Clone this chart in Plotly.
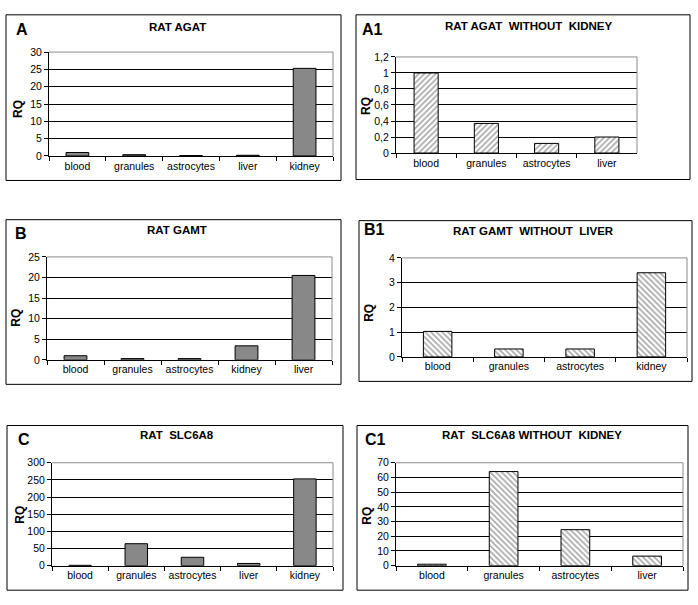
import plotly.graph_objects as go

W, H = 698, 605

# ---- data ----
cat_a = ["blood", "granules", "astrocytes", "liver", "kidney"]
val_a = [1.0, 0.37, 0.12, 0.2, 25.3]
cat_a1 = ["blood", "granules", "astrocytes", "liver"]
val_a1 = [1.0, 0.37, 0.12, 0.2]
cat_b = ["blood", "granules", "astrocytes", "kidney", "liver"]
val_b = [1.0, 0.3, 0.3, 3.4, 20.5]
cat_b1 = ["blood", "granules", "astrocytes", "kidney"]
val_b1 = [1.03, 0.32, 0.32, 3.4]
cat_c = ["blood", "granules", "astrocytes", "liver", "kidney"]
val_c = [1.0, 64.0, 24.5, 6.5, 253.0]
cat_c1 = ["blood", "granules", "astrocytes", "liver"]
val_c1 = [1.0, 64.0, 24.5, 6.5]

titles = ["RAT AGAT", "RAT AGAT  WITHOUT  KIDNEY", "RAT GAMT", "RAT GAMT  WITHOUT  LIVER",
          "RAT  SLC6A8", "RAT  SLC6A8 WITHOUT  KIDNEY"]
letters = ["A", "A1", "B", "B1", "C", "C1"]
y_max = [30, 1.2, 25, 4, 300, 70]
y_dtick = [5, 0.2, 5, 1, 50, 10]

FONT = "Liberation Sans, Arial, sans-serif"

# layout geometry (pixels)
boxes = [(6, 9, 341, 178), (356, 9, 690, 177), (6, 218, 341, 386),
         (359, 219, 692, 383), (7, 428, 343, 596), (357, 428, 688, 596)]
plots = [(49, 47, 333, 153), (396, 52, 637, 150), (47, 256, 332, 361),
         (402, 257, 687, 358), (52, 466, 333, 571), (396, 466, 683, 571)]
title_pos = [(177, 21), (528, 20), (177, 229), (533, 230), (177, 438), (532, 438)]
letter_pos = [(14, 24), (360, 24), (13, 232), (362, 228), (16, 442), (363, 442)]
rq_pos = [(18, 105), (366, 102), (16, 318), (369, 313), (20, 519), (367, 520)]

datasets = [(cat_a, val_a), (cat_a1, val_a1), (cat_b, val_b), (cat_b1, val_b1),
            (cat_c, val_c), (cat_c1, val_c1)]
hatch = [None, "/", None, "\\", None, "\\"]

def px_x(v):
    return v / W

def px_y(v):
    return 1 - v / H

fig = go.Figure()
shapes = []
annotations = []

for i, ((cats, vals), (l, t, r, b)) in enumerate(zip(datasets, plots)):
    n = "" if i == 0 else str(i + 1)
    xa, ya = "x" + n, "y" + n
    if hatch[i] is None:
        marker = dict(color="#888888", line=dict(color="#000000", width=1))
    else:
        marker = dict(color="#ffffff", line=dict(color="#000000", width=1),
                      pattern=dict(shape=hatch[i], fgcolor="#555555", bgcolor="#ffffff",
                                   size=4, solidity=0.45))
    fig.add_trace(go.Bar(x=cats, y=vals, marker=marker, xaxis=xa, yaxis=ya,
                         showlegend=False, width=0.4))
    fig.layout["xaxis" + n] = dict(
        domain=[px_x(l), px_x(r)], anchor=ya, type="category",
        showline=True, linecolor="#000000", linewidth=1,
        ticks="outside", tickson="boundaries", ticklen=4, tickcolor="#000000",
        tickangle=0,
        showgrid=False, zeroline=False, fixedrange=True,
        tickfont=dict(family=FONT, size=10.5, color="#000000"))
    fig.layout["yaxis" + n] = dict(
        domain=[px_y(b), px_y(t)], anchor=xa, range=[0, y_max[i]],
        dtick=y_dtick[i], tick0=0,
        showline=True, linecolor="#000000", linewidth=1,
        ticks="outside", ticklen=4, tickcolor="#000000",
        showgrid=True, gridcolor="#000000", gridwidth=1, zeroline=False,
        fixedrange=True,
        tickfont=dict(family=FONT, size=10.5, color="#000000"))
    # plot-area border (top and right), grey as in the original
    shapes.append(dict(type="line", xref=xa + " domain", yref=ya + " domain",
                       x0=0, x1=1, y0=1, y1=1, line=dict(color="#8a8a8a", width=1)))
    shapes.append(dict(type="line", xref=xa + " domain", yref=ya + " domain",
                       x0=1, x1=1, y0=0, y1=1, line=dict(color="#8a8a8a", width=1)))

for i, (l, t, r, b) in enumerate(boxes):
    shapes.append(dict(type="rect", xref="paper", yref="paper",
                       x0=px_x(l), x1=px_x(r), y0=px_y(b), y1=px_y(t),
                       line=dict(color="#000000", width=1), layer="below"))
    tx, ty = title_pos[i]
    annotations.append(dict(text="<b>%s</b>" % titles[i], x=px_x(tx), y=px_y(ty),
                            xref="paper", yref="paper", showarrow=False,
                            xanchor="center", yanchor="middle",
                            font=dict(family=FONT, size=11.5, color="#000000")))
    lx, ly = letter_pos[i]
    annotations.append(dict(text="<b>%s</b>" % letters[i], x=px_x(lx), y=px_y(ly),
                            xref="paper", yref="paper", showarrow=False,
                            xanchor="left", yanchor="middle",
                            font=dict(family=FONT, size=16, color="#000000")))
    rx, ry = rq_pos[i]
    annotations.append(dict(text="<b>RQ</b>", x=px_x(rx), y=px_y(ry),
                            xref="paper", yref="paper", showarrow=False,
                            xanchor="center", yanchor="middle", textangle=-90,
                            font=dict(family=FONT, size=12, color="#000000")))

fig.update_layout(
    width=W, height=H, margin=dict(l=0, r=0, t=0, b=0),
    paper_bgcolor="#ffffff", plot_bgcolor="#ffffff",
    separators=", ", shapes=shapes, annotations=annotations,
    font=dict(family=FONT, color="#000000"), bargap=0.6,
)

fig.write_html("out.html", config={"displayModeBar": False},
               post_script="document.body.style.margin='0px';document.body.style.overflow='hidden';")
